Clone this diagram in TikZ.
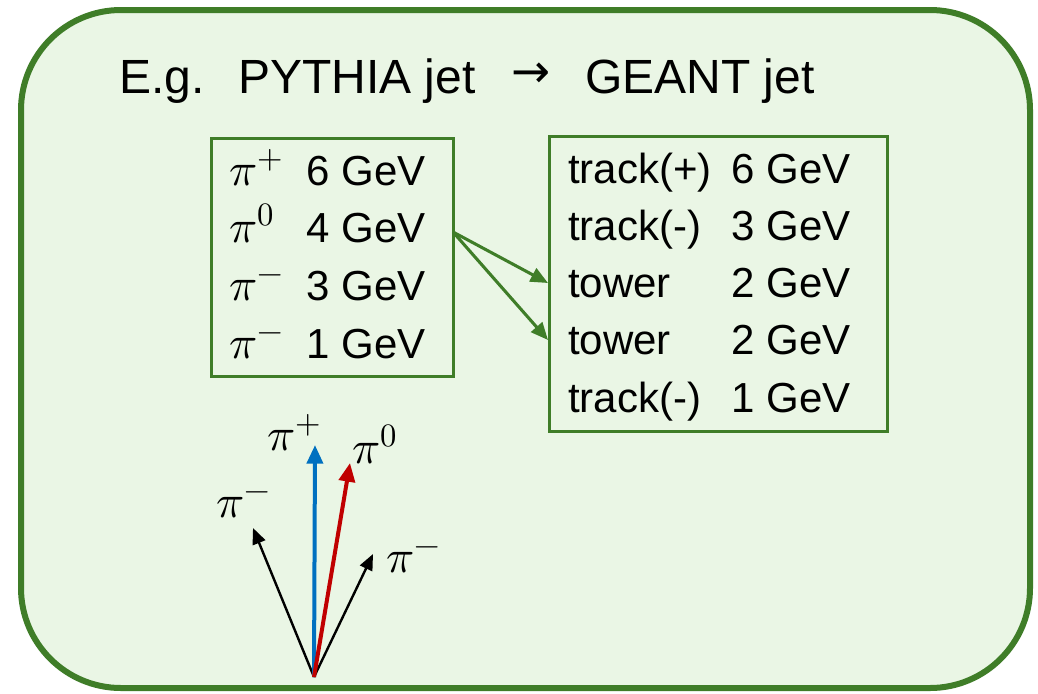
\documentclass[tikz,border=0pt]{standalone}
\usepackage{fontspec}
\usepackage{unicode-math}
\setmainfont{Liberation Sans}
\setmathfont{Latin Modern Math}
\newfontfamily\arrowfont{DejaVu Sans}
\usetikzlibrary{arrows.meta}
\definecolor{frame}{HTML}{3F7D28}
\definecolor{bg}{HTML}{EAF6E5}
\definecolor{pblue}{HTML}{0070C0}
\definecolor{pred}{HTML}{C00000}
\tikzset{
  txt/.style={inner sep=0pt, font=\fontsize{31.5}{36}\selectfont},
  pil/.style={inner sep=0pt, font=\fontsize{35}{42}\selectfont},
  ttl/.style={inner sep=0pt, font=\fontsize{36}{43}\selectfont},
  gbox/.style={draw=frame, line width=2.3pt},
  garrow/.style={draw=frame, line width=2.3pt, -{Triangle[length=13pt,width=11pt]}},
  parrow/.style={line width=1.8pt, -{Triangle[length=12pt,width=10pt]}},
  pthick/.style={line width=3pt, -{Triangle[length=14pt,width=12pt]}},
}
\begin{document}
\begin{tikzpicture}[x=0.75pt,y=-0.75pt]
\useasboundingbox (0,0) rectangle (1038,693);
\fill[white] (0,0) rectangle (1038,693);
\draw[draw=frame, fill=bg, line width=4.5pt, rounded corners=75pt] (21,10) rectangle (1030,688);

% title
\node[ttl, anchor=base west] (eg) at (119,93) {E.g.};
\node[ttl, anchor=base west] (py) at (238,93) {PYTHIA jet};
\node[inner sep=0pt, font=\arrowfont\fontsize{35}{38}\selectfont] (tarr) at (531,75) {→};
\node[ttl, anchor=base west] (ge) at (585,93) {GEANT jet};

% left box
\node[gbox, minimum width=242*0.75pt, minimum height=238*0.75pt, anchor=north west, inner sep=0pt] (lbox) at (210,137) {};
\node[pil, anchor=base west] (l1a) at (229,185) {$\pi^{+}$};
\node[txt, anchor=base east] (l1b) at (426,185) {6 GeV};
\node[pil, anchor=base west] (l2a) at (229,242) {$\pi^{0}$};
\node[txt, anchor=base east] (l2b) at (426,242) {4 GeV};
\node[pil, anchor=base west] (l3a) at (229,300) {$\pi^{-}$};
\node[txt, anchor=base east] (l3b) at (426,300) {3 GeV};
\node[pil, anchor=base west] (l4a) at (229,358) {$\pi^{-}$};
\node[txt, anchor=base east] (l4b) at (426,358) {1 GeV};

% right box
\node[gbox, minimum width=338*0.75pt, minimum height=295*0.75pt, anchor=north west, inner sep=0pt] (rbox) at (548,135) {};
\node[txt, anchor=base west] (r1a) at (568,183) {track(+)};
\node[txt, anchor=base east] (r1b) at (851,183) {6 GeV};
\node[txt, anchor=base west] (r2a) at (568,240) {track(-)};
\node[txt, anchor=base east] (r2b) at (851,240) {3 GeV};
\node[txt, anchor=base west] (r3a) at (568,297) {tower};
\node[txt, anchor=base east] (r3b) at (851,297) {2 GeV};
\node[txt, anchor=base west] (r4a) at (568,354) {tower};
\node[txt, anchor=base east] (r4b) at (851,354) {2 GeV};
\node[txt, anchor=base west] (r5a) at (568,412) {track(-)};
\node[txt, anchor=base east] (r5b) at (851,412) {1 GeV};

% green arrows
\coordinate (src) at (453,232);
\coordinate (t1) at (548,283);
\coordinate (t2) at (548,340);
\draw[garrow] (src) -- (t1);
\draw[garrow] (src) -- (t2);

% pion diagram
\coordinate (o) at (314,677);
\coordinate (pp) at (315,445);
\coordinate (p0) at (350,463);
\coordinate (pm1) at (253,528);
\coordinate (pm2) at (373,554);
\draw[parrow, black] (o) -- (pm1);
\draw[parrow, black] (o) -- (pm2);
\draw[pthick, pblue, draw=pblue, fill=pblue] (o) -- (pp);
\draw[pthick, pred, draw=pred, fill=pred] (o) -- (p0);
\node[pil, anchor=base west] (lpp) at (267,450) {$\pi^{+}$};
\node[pil, anchor=base west] (lp0) at (352,463) {$\pi^{0}$};
\node[pil, anchor=base west] (lpm1) at (216,517) {$\pi^{-}$};
\node[pil, anchor=base west] (lpm2) at (386,572) {$\pi^{-}$};
\end{tikzpicture}
\end{document}
